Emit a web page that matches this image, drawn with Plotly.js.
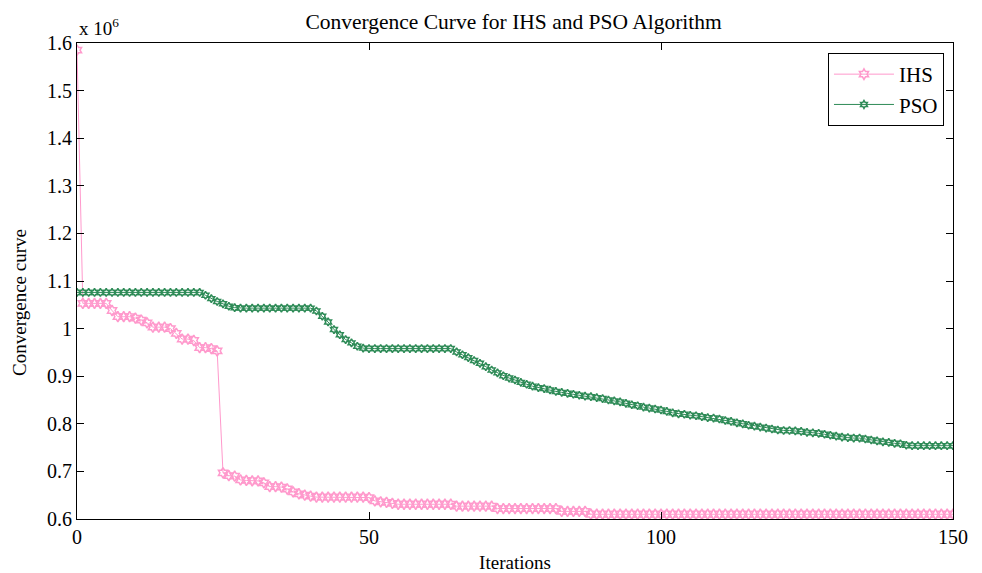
<!DOCTYPE html>
<html>
<head>
<meta charset="utf-8">
<script src="https://cdn.plot.ly/plotly-3.0.1.min.js"></script>
<style>html,body{margin:0;padding:0;background:#fff;}#chart{width:982px;height:573px;}</style>
</head>
<body>
<div id="chart"></div>
<script>
// Values in units of 10^6
const ihs = [
  1.585,
  1.053, 1.053, 1.053, 1.053, 1.053,
  1.038,
  1.025, 1.025, 1.025, 1.022, 1.018, 1.012,
  1.003, 1.003, 1.003, 1.000, 0.990,
  0.978, 0.978, 0.975,
  0.960, 0.960, 0.958, 0.953,
  0.697,
  0.691, 0.690,
  0.682, 0.681, 0.680, 0.680, 0.676,
  0.668, 0.668, 0.667, 0.663,
  0.657, 0.653, 0.650,
  0.648,
  0.646, 0.646, 0.646, 0.646, 0.646, 0.646, 0.646, 0.646, 0.646,
  0.645, 0.638,
  0.636, 0.635, 0.633,
  0.631, 0.631, 0.631, 0.631, 0.631, 0.631, 0.631, 0.631, 0.631, 0.631,
  0.627, 0.627, 0.627, 0.627, 0.627, 0.627, 0.627,
  0.622, 0.622, 0.622, 0.622, 0.622, 0.622, 0.622, 0.622, 0.622, 0.622, 0.622,
  0.616, 0.616, 0.616, 0.616, 0.616,
  0.610, 0.610, 0.610, 0.610, 0.610, 0.610, 0.610, 0.610, 0.610, 0.610,
  0.610, 0.610, 0.610, 0.610, 0.610, 0.610, 0.610, 0.610, 0.610, 0.610,
  0.610, 0.610, 0.610, 0.610, 0.610, 0.610, 0.610, 0.610, 0.610, 0.610,
  0.610, 0.610, 0.610, 0.610, 0.610, 0.610, 0.610, 0.610, 0.610, 0.610,
  0.610, 0.610, 0.610, 0.610, 0.610, 0.610, 0.610, 0.610, 0.610, 0.610,
  0.610, 0.610, 0.610, 0.610, 0.610, 0.610, 0.610, 0.610, 0.610, 0.610,
  0.610, 0.610, 0.610
];
const pso = [
  1.076, 1.076, 1.076, 1.076, 1.076, 1.076, 1.076, 1.076, 1.076, 1.076, 1.076,
  1.076, 1.076, 1.076, 1.076, 1.076, 1.076, 1.076, 1.076, 1.076, 1.076, 1.076,
  1.070, 1.063, 1.057, 1.052, 1.047, 1.044,
  1.043, 1.043, 1.043, 1.043, 1.043, 1.043, 1.043, 1.043, 1.043, 1.043, 1.043, 1.043, 1.043,
  1.037, 1.026, 1.014, 0.998, 0.987, 0.977, 0.970, 0.963, 0.959,
  0.958, 0.958, 0.958, 0.958, 0.958, 0.958, 0.958, 0.958, 0.958, 0.958, 0.958, 0.958, 0.958, 0.958, 0.958,
  0.951, 0.945, 0.939, 0.933, 0.927, 0.920, 0.913, 0.907, 0.901, 0.896,
  0.892, 0.887, 0.883, 0.879, 0.876, 0.874, 0.871, 0.868, 0.866, 0.864,
  0.862, 0.860, 0.858, 0.857, 0.855, 0.853, 0.850, 0.848, 0.846, 0.843,
  0.840, 0.838, 0.835, 0.833, 0.831, 0.829, 0.826, 0.823, 0.821, 0.820,
  0.818, 0.817, 0.815, 0.813, 0.812, 0.810, 0.807, 0.805, 0.802, 0.800,
  0.797, 0.795, 0.793, 0.791, 0.789, 0.787, 0.786, 0.786, 0.785, 0.784,
  0.782, 0.781, 0.780, 0.778, 0.776, 0.774, 0.772, 0.771, 0.770, 0.770,
  0.768, 0.766, 0.764, 0.762, 0.761, 0.759, 0.758, 0.755,
  0.754, 0.754, 0.754, 0.754, 0.754, 0.754, 0.754, 0.754
];
const iterations = ihs.map((_, i) => i);
const seriesNames = ["IHS", "PSO"];
const yTicks = [0.6, 0.7, 0.8, 0.9, 1, 1.1, 1.2, 1.3, 1.4, 1.5, 1.6];
const xTicks = [0, 50, 100, 150];

const FONT = "Liberation Serif, Times New Roman, serif";

const traces = [
  {
    x: iterations, y: ihs, name: seriesNames[0], type: "scatter", mode: "lines+markers",
    line: {color: "#ff99cc", width: 1},
    marker: {symbol: "hexagram-open", size: 8, color: "#ff99cc", line: {color: "#ff99cc", width: 1.5}}
  },
  {
    x: iterations.slice(0, pso.length), y: pso, name: seriesNames[1], type: "scatter", mode: "lines+markers",
    line: {color: "#2e8b57", width: 1},
    marker: {symbol: "hexagram-open", size: 6, color: "#2e8b57", line: {color: "#2e8b57", width: 1.5}}
  }
];

const axisCommon = {
  showline: true, linecolor: "#000", linewidth: 1, mirror: "ticks",
  ticks: "inside", ticklen: 7, tickcolor: "#000", tickwidth: 1,
  showgrid: false, zeroline: false,
  tickfont: {family: FONT, size: 20, color: "#000"}
};

const layout = {
  width: 982, height: 573,
  margin: {l: 77, r: 29, t: 43, b: 54},
  paper_bgcolor: "#fff", plot_bgcolor: "#fff",
  font: {family: FONT, color: "#000"},
  title: {text: "Convergence Curve for IHS and PSO Algorithm", font: {family: FONT, size: 21.5, color: "#000"}, x: 0.523, xanchor: "center", y: 0.962, yanchor: "middle"},
  xaxis: Object.assign({}, axisCommon, {
    range: [0, 150], tickvals: xTicks, ticktext: xTicks.map(String),
    title: {text: "Iterations", font: {family: FONT, size: 19, color: "#000"}, standoff: 9}
  }),
  yaxis: Object.assign({}, axisCommon, {
    range: [0.6, 1.6], tickvals: yTicks, ticktext: yTicks.map(String)
  }),
  legend: {
    x: 0.9897, y: 0.979, xanchor: "right", yanchor: "top",
    bgcolor: "#fff", bordercolor: "#000", borderwidth: 1,
    font: {family: FONT, size: 21, color: "#000"},
    tracegroupgap: 0, itemwidth: 60
  },
  annotations: [
    {
      xref: "paper", yref: "paper", x: 0, y: 1, xanchor: "left", yanchor: "bottom",
      xshift: 0, yshift: 2, showarrow: false,
      text: "x 10<sup>6</sup>", font: {family: FONT, size: 19, color: "#000"}
    },
    {
      xref: "paper", yref: "paper", x: 0, y: 0.454, xanchor: "center", yanchor: "middle",
      xshift: -57, showarrow: false, textangle: -90,
      text: "Convergence curve", font: {family: FONT, size: 19, color: "#000"}
    }
  ],
  showlegend: true
};

Plotly.newPlot("chart", traces, layout, {displayModeBar: false, responsive: false});
</script>
</body>
</html>
